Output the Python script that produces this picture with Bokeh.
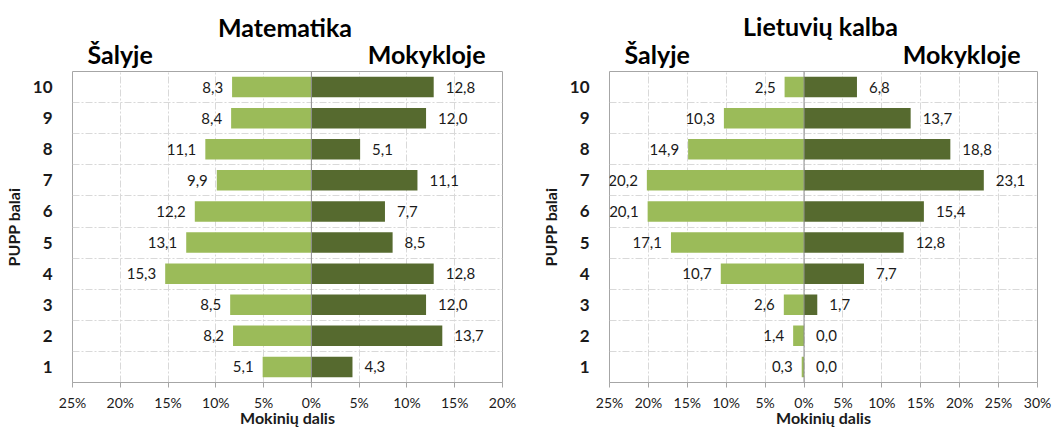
from bokeh.plotting import figure
from bokeh.models import ColumnDataSource, FixedTicker, Span, Range1d
from bokeh.layouts import row, column
from bokeh.core.properties import value
from bokeh.embed import file_html
from bokeh.resources import INLINE

# ---------------- data ----------------
balai = [1, 2, 3, 4, 5, 6, 7, 8, 9, 10]
mat_salyje = [5.1, 8.2, 8.5, 15.3, 13.1, 12.2, 9.9, 11.1, 8.4, 8.3]
mat_mokykloje = [4.3, 13.7, 12.0, 12.8, 8.5, 7.7, 11.1, 5.1, 12.0, 12.8]
lt_salyje = [0.3, 1.4, 2.6, 10.7, 17.1, 20.1, 20.2, 14.9, 10.3, 2.5]
lt_mokykloje = [0.0, 0.0, 1.7, 7.7, 12.8, 15.4, 23.1, 18.8, 13.7, 6.8]
mat_ticks = [-25, -20, -15, -10, -5, 0, 5, 10, 15, 20]
lt_ticks = [-25, -20, -15, -10, -5, 0, 5, 10, 15, 20, 25, 30]
titles = ["Matematika", "Lietuvių kalba"]
side_left = "Šalyje"
side_right = "Mokykloje"
x_title = "Mokinių dalis"
y_title = "PUPP balai"

LIGHT = "#9BBB59"
DARK = "#566A2F"
FONT = "Lato"
GRID = "#d9d9d9"
AXIS = "#a6a6a6"
TXT = "#1a1a1a"
HEADER_H = 70


def fmt(v):
    return f"{v:.1f}".replace(".", ",")


def make_header(width, bl, br, title, title_x, title_mid, sal_x, mok_x, side_mid):
    # header frame spans the same horizontal extent as the chart frame below;
    # x range is expressed in the figure's own pixel columns
    h = figure(width=width, height=HEADER_H, output_backend="svg", toolbar_location=None,
               x_range=Range1d(bl, width - br), y_range=Range1d(HEADER_H, 0),
               x_axis_type=None, y_axis_type=None,
               min_border_left=bl, min_border_right=br, min_border_top=0, min_border_bottom=0,
               background_fill_color="white", border_fill_color="white")
    h.outline_line_color = None
    h.grid.visible = False
    src = ColumnDataSource(dict(
        x=[title_x, sal_x, mok_x],
        y=[title_mid, side_mid, side_mid],
        t=[title, side_left, side_right],
        a=["center", "left", "right"],
    ))
    h.text(x="x", y="y", text="t", text_align="a", source=src, text_baseline="middle",
           text_font=value(FONT), text_font_size="25px", text_font_style="bold",
           text_color="black")
    return h


def make_chart(salyje, mokykloje, ticks, width, bl, br):
    p = figure(width=width, height=430 - HEADER_H, output_backend="svg", toolbar_location=None,
               x_range=(ticks[0], ticks[-1]), y_range=(0.5, 10.5),
               min_border_left=bl, min_border_right=br, min_border_top=1, min_border_bottom=48,
               background_fill_color="white", border_fill_color="white")
    p.outline_line_color = AXIS
    src = ColumnDataSource(dict(
        y=balai,
        sal_neg=[-v for v in salyje],
        mok=mokykloje,
        sal_txt=[fmt(v) for v in salyje],
        mok_txt=[fmt(v) for v in mokykloje],
    ))
    p.hbar(y="y", left="sal_neg", right=0, height=0.66, source=src,
           fill_color=LIGHT, line_color=None)
    p.hbar(y="y", left=0, right="mok", height=0.66, source=src,
           fill_color=DARK, line_color=None)
    p.text(x="sal_neg", y="y", text="sal_txt", source=src, x_offset=-9,
           text_align="right", text_baseline="middle", text_font_size="15px",
           text_font=value(FONT), text_color=TXT)
    p.text(x="mok", y="y", text="mok_txt", source=src, x_offset=12,
           text_align="left", text_baseline="middle", text_font_size="15px",
           text_font=value(FONT), text_color=TXT)
    p.add_layout(Span(location=0, dimension="height", line_color="#8c8c8c", line_width=1))

    # grids
    p.xgrid.ticker = FixedTicker(ticks=ticks[1:-1])
    p.xgrid.grid_line_color = GRID
    p.xgrid.grid_line_dash = "7 2 2 2"
    p.ygrid.ticker = FixedTicker(ticks=[b + 0.5 for b in balai[:-1]])
    p.ygrid.grid_line_color = GRID
    p.ygrid.grid_line_dash = "7 2 2 2"

    # x axis
    xa = p.xaxis[0]
    xa.ticker = FixedTicker(ticks=ticks)
    xa.major_label_overrides = {t: f"{abs(t)}%" for t in ticks}
    xa.axis_line_color = AXIS
    xa.major_tick_line_color = AXIS
    xa.major_tick_out = 5
    xa.major_tick_in = 0
    xa.minor_tick_line_color = None
    xa.major_label_text_font = FONT
    xa.major_label_text_font_size = "14px"
    xa.major_label_text_color = TXT
    xa.major_label_standoff = 6
    xa.axis_label = x_title
    xa.axis_label_text_font = FONT
    xa.axis_label_text_font_size = "16px"
    xa.axis_label_text_font_style = "bold"
    xa.axis_label_text_color = TXT
    xa.axis_label_standoff = -6

    # y axis
    ya = p.yaxis[0]
    ya.ticker = FixedTicker(ticks=balai)
    ya.axis_line_color = None
    ya.major_tick_line_color = None
    ya.minor_tick_line_color = None
    ya.major_label_text_font = FONT
    ya.major_label_text_font_size = "17px"
    ya.major_label_text_font_style = "bold"
    ya.major_label_text_color = TXT
    ya.major_label_standoff = 14
    ya.axis_label = y_title
    ya.axis_label_text_font = FONT
    ya.axis_label_text_font_size = "16px"
    ya.axis_label_text_font_style = "bold"
    ya.axis_label_text_color = TXT
    ya.axis_label_standoff = 7
    return p


h1 = make_header(530, 71, 28, titles[0], 284, 26, 86, 485, 53)
h2 = make_header(533, 79, 26, titles[1], 290, 25, 94, 490, 53)
p1 = make_chart(mat_salyje, mat_mokykloje, mat_ticks, 530, 71, 28)
p2 = make_chart(lt_salyje, lt_mokykloje, lt_ticks, 533, 79, 26)

layout = row(column(h1, p1), column(h2, p2))
open("out.html", "w").write(file_html(layout, INLINE))
